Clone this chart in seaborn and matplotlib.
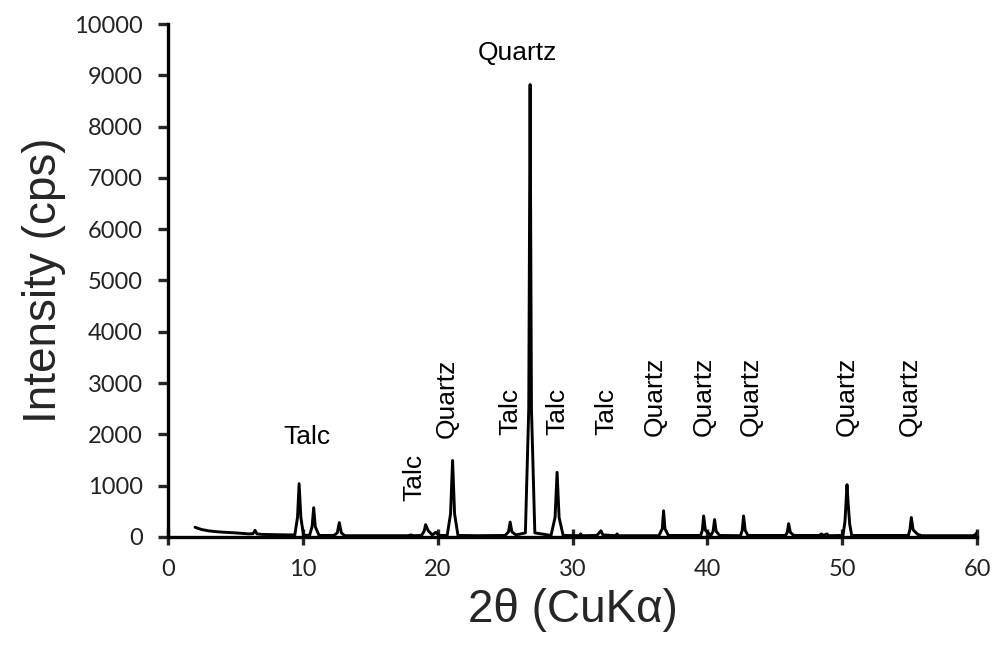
import matplotlib
matplotlib.use('Agg')
import matplotlib.pyplot as plt
import seaborn as sns
import pandas as pd

# XRD trace (2theta in degrees, intensity in cps)
two_theta = [2.0, 2.2, 2.5, 3.0, 3.5, 4.0, 5.0, 6.0, 6.3, 6.45, 6.6, 7.0, 8.0, 9.0,
             9.4, 9.6, 9.72, 9.85, 10.05, 10.5, 10.68, 10.8, 10.92, 11.2, 12.3, 12.55,
             12.7, 12.85, 13.1, 15.0, 17.8, 18.0, 18.2, 18.8, 19.0, 19.1, 19.3, 19.6,
             19.85, 20.1, 20.7, 20.95, 21.1, 21.25, 21.5, 23.0, 25.0, 25.25, 25.37,
             25.5, 25.8, 26.5, 26.75, 26.85, 26.95, 27.2, 28.4, 28.7, 28.85, 29.0, 29.3,
             30.5, 30.6, 30.7, 31.8, 32.0, 32.1, 32.25, 33.2, 33.3, 33.4, 36.4, 36.65,
             36.75, 36.85, 37.1, 39.5, 39.62, 39.72, 39.85, 40.25, 40.42, 40.53, 40.65,
             40.9, 42.45, 42.58, 42.68, 42.8, 43.0, 45.8, 45.92, 46.02, 46.15, 46.4,
             48.3, 48.45, 48.6, 48.85, 49.0, 50.05, 50.2, 50.35, 50.45, 50.55, 50.7,
             54.9, 55.02, 55.12, 55.25, 55.4, 55.6, 55.9, 59.7, 59.9, 60.0]
intensity = [190, 170, 145, 120, 105, 95, 80, 60, 65, 130, 60, 50, 45, 40,
             40, 380, 1040, 380, 30, 35, 200, 570, 200, 30, 30, 80,
             280, 80, 25, 25, 25, 40, 25, 30, 120, 240, 120, 40,
             90, 30, 30, 450, 1490, 450, 30, 25, 30, 100, 290,
             100, 40, 80, 2500, 8820, 2500, 80, 30, 380, 1260, 380, 30,
             25, 60, 25, 30, 90, 120, 40, 25, 60, 25, 25, 160,
             510, 160, 30, 30, 130, 410, 130, 30, 110, 340, 110,
             30, 25, 130, 410, 130, 30, 30, 90, 260, 90, 30,
             30, 60, 30, 60, 25, 30, 300, 1020, 600, 250, 30,
             30, 150, 380, 140, 100, 50, 25, 25, 50, 90]

# phase labels: text, position and rotation
label_text = ['Talc', 'Talc', 'Quartz', 'Quartz', 'Talc', 'Talc', 'Talc',
              'Quartz', 'Quartz', 'Quartz', 'Quartz', 'Quartz']
label_x = [10.3, 18.3, 20.7, 25.93, 25.4, 28.85, 32.5, 36.1, 39.7, 43.2, 50.35, 55.0]
label_y = [1950, 700, 1930, 9435, 1990, 1990, 1990, 1970, 1970, 1970, 1970, 1970]
label_rot = [0, 90, 90, 0, 90, 90, 90, 90, 90, 90, 90, 90]

df = pd.DataFrame({'two_theta': two_theta, 'intensity': intensity})

sns.set_style('white')
plt.rcParams['font.family'] = ['Liberation Sans', 'DejaVu Sans']

fig = plt.figure(figsize=(9.92, 6.49), dpi=100)
ax = fig.add_axes([0.1694, 0.1726, 0.8156, 0.7904])

sns.lineplot(data=df, x='two_theta', y='intensity', ax=ax, color='black',
             linewidth=2.1, sort=False, estimator=None)

for t, x, y, r in zip(label_text, label_x, label_y, label_rot):
    if r == 0:
        ax.text(x, y, t, ha='center', va='center', fontsize=19, color='black')
    else:
        ax.text(x, y, t, ha='center', va='bottom', rotation=90, fontsize=19,
                color='black')

ax.set_xlim(0, 60)
ax.set_ylim(0, 10000)
ax.set_xticks(range(0, 61, 10))
ax.set_yticks(range(0, 10001, 1000))
sns.despine(ax=ax)
for s in ['left', 'bottom']:
    ax.spines[s].set_linewidth(2.4)
    ax.spines[s].set_color('black')

ax.tick_params(axis='y', direction='out', length=7, width=2.4, pad=11,
               labelsize=17, left=True)
ax.tick_params(axis='x', direction='inout', length=11, width=2.4, pad=10,
               labelsize=17, bottom=True)
for lab in ax.get_xticklabels() + ax.get_yticklabels():
    lab.set_family(['Lato', 'DejaVu Sans'])
    lab.set_color('#222222')

ax.set_xlabel('2θ (CuKα)', fontsize=33, labelpad=6)
ax.set_ylabel('Intensity (cps)', fontsize=33, labelpad=6)

fig.savefig('out.png', dpi=100)
